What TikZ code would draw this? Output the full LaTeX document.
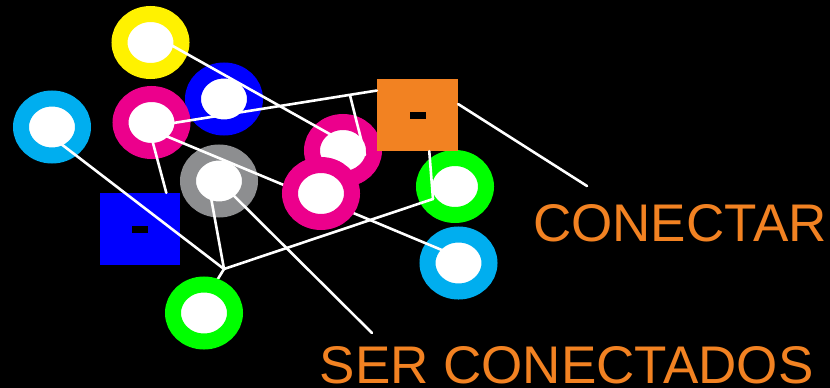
\documentclass[tikz,border=0pt]{standalone}
\usepackage{fontspec}
\setmainfont{Liberation Sans}
\usetikzlibrary{shapes.geometric}
\pgfdeclarelayer{wires}
\pgfdeclarelayer{front}
\pgfsetlayers{main,wires,front}
\definecolor{ringyellow}{RGB}{255,242,0}
\definecolor{ringblue}{RGB}{0,0,255}
\definecolor{ringcyan}{RGB}{0,174,239}
\definecolor{ringmag}{RGB}{236,0,140}
\definecolor{ringgray}{RGB}{141,142,144}
\definecolor{ringgreen}{RGB}{0,255,0}
\definecolor{labelorange}{RGB}{242,130,34}
\begin{document}
\begin{tikzpicture}[x=1pt,y=-1pt,
  ring/.style={ellipse, draw=#1, line width=16pt, fill=white,
    minimum width=62pt, minimum height=57pt, inner sep=0pt},
  block/.style={rectangle, fill=#1, inner sep=0pt},
  wire/.style={draw=white, line width=2.6pt, line cap=round},
  caption/.style={text=labelorange, font=\fontsize{53}{60}\selectfont,
    anchor=base west, inner sep=0pt, text depth=0pt}]
\fill[black] (0,0) rectangle (830,388);
\useasboundingbox (0,0) rectangle (830,388);

% rings
\node[ring=ringyellow] (yel) at (150.5,42.5) {};
\node[ring=ringblue]   (blu) at (224,99) {};
\node[ring=ringcyan]   (cyl) at (52,127) {};
\node[ring=ringmag]    (mgl) at (151.5,122.5) {};
\node[ring=ringgray]   (gry) at (219,181) {};
\node[ring=ringmag]    (mgb) at (343,150.5) {};
\node[ring=ringgreen]  (grr) at (455,186.5) {};
\node[ring=ringcyan]   (cyr) at (458.5,263) {};

% squares with their black bars
\node[block=ringblue, minimum width=80pt, minimum height=72pt] (bsq) at (140,229)
  {\textcolor{black}{\rule{16pt}{7pt}}};
\node[block=labelorange, minimum width=81pt, minimum height=72pt] (osq) at (417.5,115)
  {\textcolor{black}{\rule{16pt}{7pt}}};

% rings lying over the wires
\begin{pgfonlayer}{front}
\node[ring=ringmag]   (mgf) at (321,193.5) {};
\node[ring=ringgreen] (grb) at (204,313) {};
\end{pgfonlayer}

% junctions and free ends
\coordinate (J1) at (350,95.3);
\coordinate (J2) at (224,269);
\coordinate (J3) at (433,199);
\coordinate (c1) at (587,186);
\coordinate (c2) at (372,333);

\begin{pgfonlayer}{wires}
\draw[wire] ([yshift=9pt]yel.center) -- ([yshift=9pt]mgb.center);
\draw[wire] ([yshift=-4pt]mgl.center) -- (osq.149.35);
\draw[wire] (J1) -- ([xshift=22pt,yshift=-4.5pt]mgb.center);
\draw[wire] ([yshift=-7.5pt]mgl.center) -- ([yshift=-7pt]mgf.center);
\draw[wire] ([xshift=-4pt]mgl.center) -- (bsq.54.2);
\draw[wire] ([yshift=-10pt]cyl.center) -- (J2);
\draw[wire] ([xshift=-11pt]gry.center) -- (J2);
\draw[wire] (J2) -- ([xshift=-7pt]grb.center);
\draw[wire] (J2) -- (J3);
\draw[wire] (osq.-72.3) -- (J3);
\draw[wire] (gry.center) -- (c2);
\draw[wire] (osq.15) -- (c1);
\draw[wire] ([yshift=-6pt]mgf.center) -- ([yshift=6pt]cyr.center);
\end{pgfonlayer}

% captions
\node[caption] (conectar) at (533,241.7) {CONECTAR};
\node[caption] (serc) at (319.5,383) {SER CONECTADOS};
\end{tikzpicture}
\end{document}
